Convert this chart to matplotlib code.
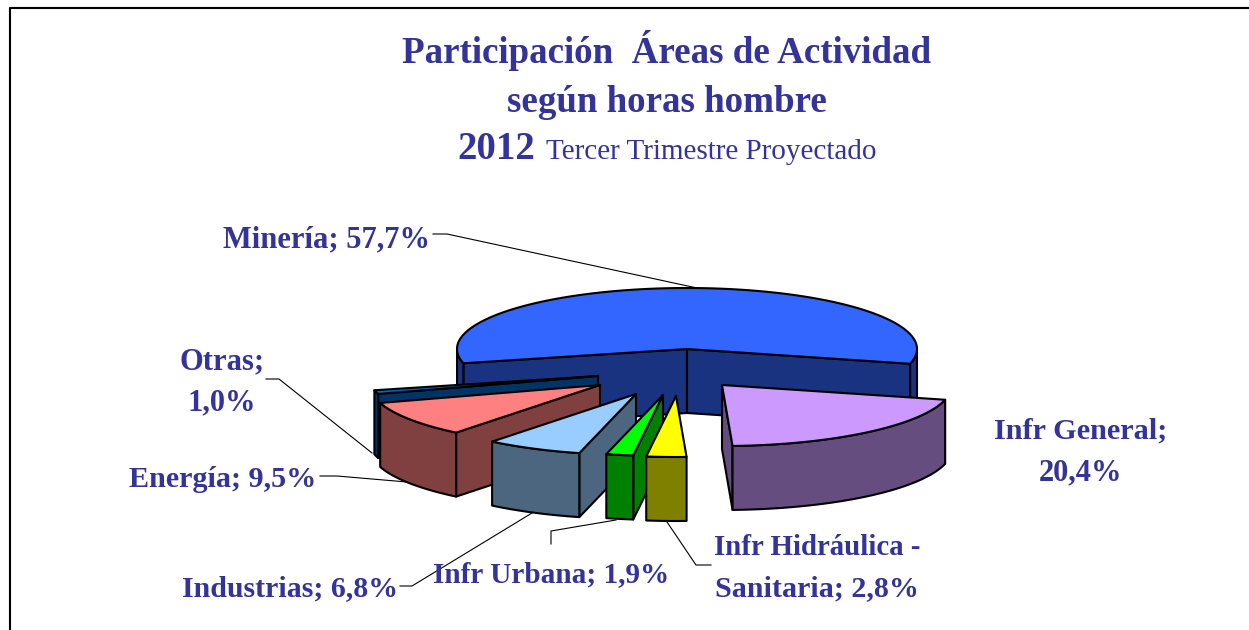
import numpy as np
import matplotlib
matplotlib.use('Agg')
import matplotlib.pyplot as plt
from matplotlib.patches import Polygon

# datos del grafico
areas = ['Minería', 'Infr General', 'Infr Hidráulica - Sanitaria', 'Infr Urbana', 'Industrias', 'Energía', 'Otras']
valores = [57.7, 20.4, 2.8, 1.9, 6.8, 9.5, 1.0]
colores = ['#3366FF', '#CC99FF', '#FFFF00', '#00FF00', '#99CCFF', '#FF8080', '#0066CC']

# posicion del vertice de cada porcion (separacion del pastel), en pixeles
vertices = [(687, 349), (722, 385), (676, 396), (663, 395), (636, 394), (600, 385), (598, 376)]
orden_dibujo = [0, 6, 5, 1, 4, 3, 2]

rx = 230
ry = 61
alto = 64
inicio_general = 104  # grados, horario desde arriba

AZUL = '#333399'
FUENTE = 'Liberation Serif'


def borde(v, ang):
    t = np.radians(ang)
    return np.column_stack([v[0] + rx * np.sin(t), v[1] - ry * np.cos(t)])


def oscuro(color):
    return tuple(c * 0.5 for c in matplotlib.colors.to_rgb(color))


def pared(ax, puntos, color):
    abajo = puntos[::-1] + [0, alto]
    ax.add_patch(Polygon(np.vstack([puntos, abajo]), closed=True, fc=color, ec='black', lw=1.5, joinstyle='round'))


def porcion(ax, v, a1, a2, color):
    lado = oscuro(color)
    # paredes radiales que miran al frente
    if np.sin(np.radians(a1)) < 0:
        pared(ax, np.vstack([[v], borde(v, np.array([a1]))]), lado)
    if np.sin(np.radians(a2)) > 0:
        pared(ax, np.vstack([[v], borde(v, np.array([a2]))]), lado)
    # pared exterior, solo la mitad de adelante
    angs = np.linspace(a1, a2, 200)
    frente = np.cos(np.radians(angs)) < 0
    if frente.any():
        i = np.where(frente)[0]
        cortes = np.split(i, np.where(np.diff(i) > 1)[0] + 1)
        for c in cortes:
            pared(ax, borde(v, angs[c]), lado)
    # cara superior
    ax.add_patch(Polygon(np.vstack([[v], borde(v, angs)]), closed=True, fc=color, ec='black', lw=1.5, joinstyle='round'))


fig = plt.figure(figsize=(12.49, 6.30), dpi=100)
ax = fig.add_axes([0, 0, 1, 1])
ax.set_xlim(0, 1249)
ax.set_ylim(630, 0)
ax.axis('off')

# marco
ax.plot([9, 9, 1249], [630, 7, 7], color='#b0b0b0', lw=0.8)
ax.plot([10, 10, 1249], [630, 8, 8], color='black', lw=1.5)

# angulos de cada porcion, partiendo de Infr General en sentido horario
fracc = np.array(valores) / sum(valores) * 360
angulos = {}
a = inicio_general
for i in [1, 2, 3, 4, 5, 6, 0]:
    angulos[i] = (a, a + fracc[i])
    a += fracc[i]

for i in orden_dibujo:
    porcion(ax, vertices[i], angulos[i][0], angulos[i][1], colores[i])

# lineas guia
guias = [
    ([433, 447, 697], [234, 234, 288]),
    ([266, 279, 372], [379, 379, 453]),
    ([320, 337, 407], [476, 476, 482]),
    ([400, 412, 532], [586, 586, 513]),
    ([551, 551, 616], [544, 531, 520]),
    ([711, 696, 667], [565, 565, 522]),
]
for xs, ys in guias:
    ax.plot(xs, ys, color='black', lw=0.8)

# titulo
kw = dict(color=AZUL, family=FUENTE, ha='center', va='baseline')
ax.text(667, 63, 'Participación  Áreas de Actividad', fontsize=26.65, fontweight='bold', **kw)
ax.text(667, 112, 'según horas hombre', fontsize=26.65, fontweight='bold', **kw)
ax.text(496, 159, '2012', fontsize=28, fontweight='bold', **kw)
ax.text(711, 159, 'Tercer Trimestre Proyectado', fontsize=21, **kw)

# etiquetas
etiquetas = [
    (327, 247, 'Minería; 57,7%', 22),
    (222, 369, 'Otras;', 22),
    (222, 410, '1,0%', 22),
    (223, 487, 'Energía; 9,5%', 21.7),
    (1081, 439, 'Infr General;', 21.8),
    (1081, 480, '20,4%', 22),
    (817, 555, 'Infr Hidráulica -', 20.8),
    (817, 596, 'Sanitaria; 2,8%', 21.6),
    (290, 596, 'Industrias; 6,8%', 21.5),
    (551, 582, 'Infr Urbana; 1,9%', 21.1),
]
for x, y, s, tam in etiquetas:
    ax.text(x, y, s, fontsize=tam, fontweight='bold', **kw)

fig.savefig('out.png', dpi=100)
